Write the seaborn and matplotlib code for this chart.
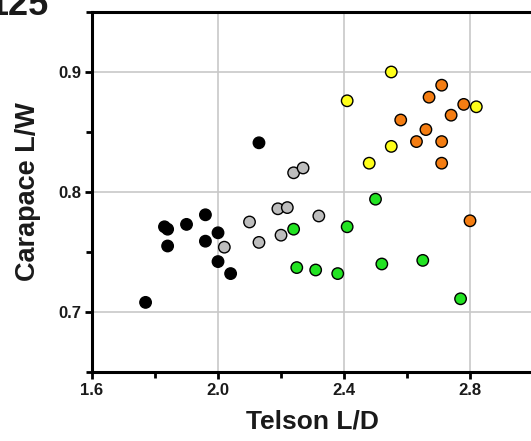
import pandas as pd
import matplotlib.pyplot as plt
import seaborn as sns
from matplotlib.ticker import MultipleLocator

# -------------------------------
# data
# -------------------------------
black_x = [1.77, 1.83, 1.84, 1.84, 1.90, 1.96, 1.96, 2.00, 2.00, 2.04, 2.13]
black_y = [0.708, 0.771, 0.769, 0.755, 0.773, 0.781, 0.759, 0.766, 0.742, 0.732, 0.841]

gray_x = [2.02, 2.10, 2.13, 2.19, 2.20, 2.22, 2.24, 2.27, 2.32]
gray_y = [0.754, 0.775, 0.758, 0.786, 0.764, 0.787, 0.816, 0.820, 0.780]

green_x = [2.24, 2.25, 2.31, 2.38, 2.41, 2.50, 2.52, 2.65, 2.77]
green_y = [0.769, 0.737, 0.735, 0.732, 0.771, 0.794, 0.740, 0.743, 0.711]

yellow_x = [2.41, 2.48, 2.55, 2.55, 2.82]
yellow_y = [0.876, 0.824, 0.838, 0.900, 0.871]

orange_x = [2.58, 2.63, 2.66, 2.67, 2.71, 2.71, 2.71, 2.74, 2.78, 2.80]
orange_y = [0.860, 0.842, 0.852, 0.879, 0.889, 0.842, 0.824, 0.864, 0.873, 0.776]

groups = ["black", "gray", "green", "yellow", "orange"]
palette = {"black": "#000000", "gray": "#bdbdbd", "green": "#22e322",
           "yellow": "#ffff1a", "orange": "#f47d12"}

frames = []
for name, xs, ys in [("black", black_x, black_y), ("gray", gray_x, gray_y),
                     ("green", green_x, green_y), ("yellow", yellow_x, yellow_y),
                     ("orange", orange_x, orange_y)]:
    frames.append(pd.DataFrame({"x": xs, "y": ys, "group": name}))
df = pd.concat(frames, ignore_index=True)

sns.set_theme(style="white")
plt.rcParams['font.family'] = ['Liberation Sans', 'DejaVu Sans']
TXT = "#1a1a1a"

fig = plt.figure(figsize=(5.31, 4.41), dpi=100)
ax = fig.add_axes([0.1733, 0.1565, 0.8305, 0.8163])

sns.scatterplot(data=df, x="x", y="y", hue="group", hue_order=groups,
                palette=palette, s=68, edgecolor="black", linewidth=1.0,
                legend=False, ax=ax, zorder=3)

ax.set_xlim(1.6, 3.0)
ax.set_ylim(0.65, 0.95)
ax.xaxis.set_minor_locator(MultipleLocator(0.2))
ax.yaxis.set_minor_locator(MultipleLocator(0.05))
ax.set_xticks([1.6, 2.0, 2.4, 2.8])
ax.set_xticklabels(["1.6", "2.0", "2.4", "2.8"])
ax.set_yticks([0.7, 0.8, 0.9])
ax.set_yticklabels(["0.7", "0.8", "0.9"])

ax.grid(True, which="major", color="#c8c8c8", linewidth=1.2, zorder=0)
ax.set_axisbelow(True)

for side in ["left", "bottom", "top"]:
    ax.spines[side].set_color("black")
    ax.spines[side].set_linewidth(2.2)
ax.spines["right"].set_visible(False)

ax.tick_params(which="both", direction="out", color="black", left=True, bottom=True)
ax.tick_params(which="major", length=5, width=2, labelsize=12, pad=3, labelcolor=TXT)
ax.tick_params(which="minor", length=4, width=2)
for lab in ax.get_xticklabels() + ax.get_yticklabels():
    lab.set_fontweight("bold")

ax.set_xlabel("Telson L/D", fontsize=19, fontweight="bold", labelpad=8, color=TXT)
ax.set_ylabel("Carapace L/W", fontsize=19.5, fontweight="bold", labelpad=12, color=TXT)

# panel label, cut off at the top like the reference
fig.text(-0.022, 1 - 15 / 441, "125", fontsize=26, fontweight="bold",
         ha="left", va="baseline", color=TXT)

fig.savefig("out.png", dpi=100)
